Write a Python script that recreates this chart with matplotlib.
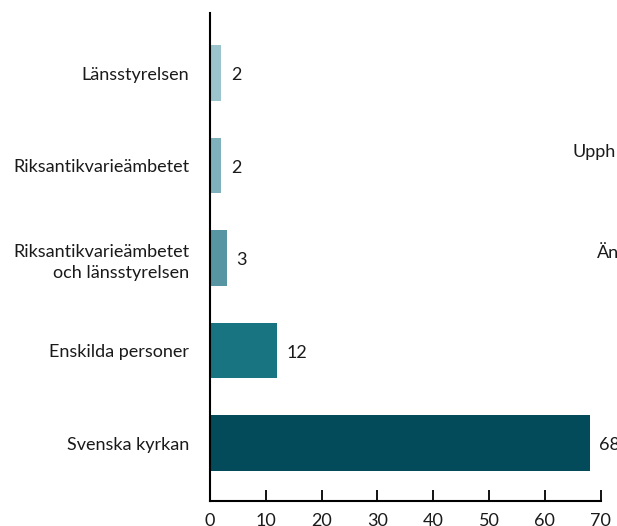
import matplotlib.pyplot as plt

categories = [
    "Svenska kyrkan",
    "Enskilda personer",
    "Riksantikvarieämbetet\noch länsstyrelsen",
    "Riksantikvarieämbetet",
    "Länsstyrelsen",
]
values = [68, 12, 3, 2, 2]
colors = ["#034A5A", "#187480", "#5895A3", "#7EB1BC", "#9BC4CC"]
xticks = [0, 10, 20, 30, 40, 50, 60, 70]

plt.rcParams["font.family"] = ["Lato", "DejaVu Sans"]
FS = 13

fig = plt.figure(figsize=(6.17, 5.26), dpi=100, facecolor="white")
ax = fig.add_axes([210 / 617, 1 - 501 / 526, (600.7 - 210) / 617, (501 - 13) / 526])

y = list(range(len(categories)))
ax.barh(y, values, height=0.6, color=colors)

for yi, v in zip(y, values):
    ax.annotate(str(v), xy=(v, yi), xytext=(7, -1.5), textcoords="offset points",
                ha="left", va="center", fontsize=FS, color="#1a1a1a")

ax.set_xlim(0, 70)
ax.set_ylim(-0.627, 4.65)
ax.set_xticks(xticks)
ax.set_yticks(y)
ax.set_yticklabels(categories, fontsize=FS, color="#1a1a1a", linespacing=1.45)
ax.tick_params(axis="y", length=0, pad=15)
ax.tick_params(axis="x", direction="in", length=8, width=1.3, labelsize=FS,
               pad=9, labelcolor="#1a1a1a")
ax.spines["top"].set_visible(False)
ax.spines["right"].set_visible(False)
ax.spines["left"].set_linewidth(1.5)
ax.spines["bottom"].set_linewidth(1.5)

fig.text(573 / 617, 1 - 152 / 526, "Upph", fontsize=FS, va="center", ha="left", color="#1a1a1a")
fig.text(597 / 617, 1 - 253 / 526, "Än", fontsize=FS, va="center", ha="left", color="#1a1a1a")

fig.savefig("out.png", dpi=100, facecolor="white")
